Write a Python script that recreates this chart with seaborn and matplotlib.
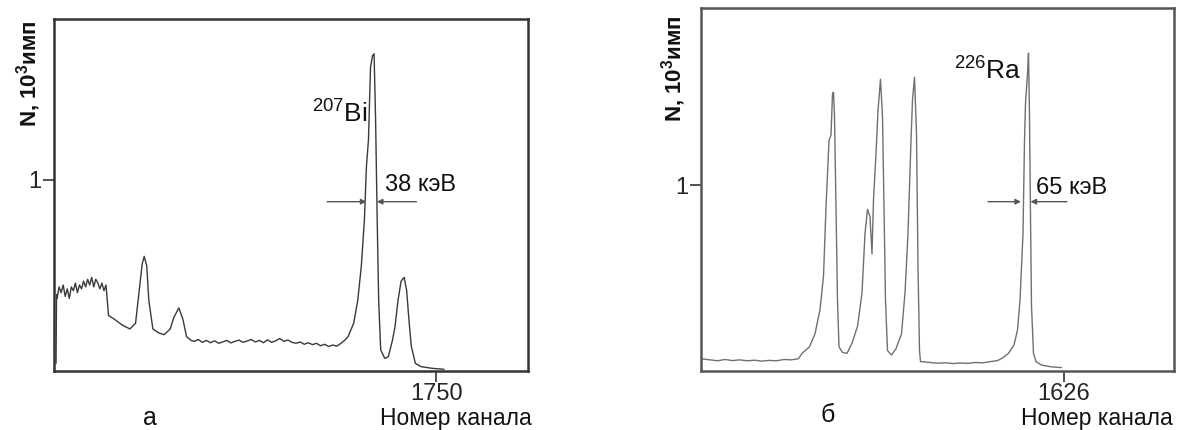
import pandas as pd
import matplotlib.pyplot as plt
import seaborn as sns

# Спектр а: 207Bi (номер канала, N в 10^3 имп)
bi_channel = [1004, 1005, 1006, 1010, 1014, 1018, 1022, 1026, 1030, 1034, 1038,
              1042, 1046, 1050, 1054, 1058, 1062, 1066, 1070, 1074, 1078, 1082,
              1086, 1090, 1094, 1098, 1102, 1107, 1119, 1134, 1149, 1160, 1168,
              1173, 1177, 1182, 1186, 1194, 1205, 1216, 1228, 1235, 1245, 1253,
              1260, 1269, 1275, 1283, 1291, 1299, 1307, 1315, 1323, 1331, 1339,
              1347, 1355, 1363, 1371, 1379, 1387, 1395, 1403, 1411, 1419, 1427,
              1435, 1443, 1451, 1459, 1467, 1475, 1483, 1491, 1499, 1507, 1515,
              1523, 1531, 1539, 1547, 1555, 1563, 1570, 1577, 1588, 1596, 1603,
              1609, 1613, 1617, 1621, 1625, 1628, 1631, 1634, 1637, 1641, 1649,
              1656, 1664, 1669, 1675, 1681, 1687, 1692, 1696, 1701, 1709, 1720,
              1742, 1765]
bi_counts = [0.04, 0.40, 0.38, 0.44, 0.41, 0.45, 0.39, 0.43, 0.38, 0.44, 0.42,
             0.46, 0.41, 0.45, 0.43, 0.47, 0.44, 0.48, 0.45, 0.49, 0.44, 0.48,
             0.46, 0.43, 0.46, 0.42, 0.45, 0.29, 0.27, 0.24, 0.22, 0.25, 0.44,
             0.56, 0.60, 0.55, 0.37, 0.22, 0.20, 0.19, 0.22, 0.28, 0.33, 0.27,
             0.18, 0.16, 0.155, 0.165, 0.150, 0.160, 0.148, 0.158, 0.145, 0.152,
             0.160, 0.147, 0.155, 0.162, 0.150, 0.157, 0.165, 0.152, 0.160, 0.148,
             0.163, 0.150, 0.158, 0.170, 0.155, 0.162, 0.150, 0.145, 0.152, 0.140,
             0.148, 0.138, 0.145, 0.132, 0.140, 0.128, 0.136, 0.130, 0.145, 0.160,
             0.18, 0.25, 0.37, 0.55, 0.79, 1.07, 1.21, 1.59, 1.65, 1.66, 1.31,
             0.81, 0.37, 0.11, 0.066, 0.075, 0.16, 0.23, 0.37, 0.47, 0.49, 0.42,
             0.28, 0.13, 0.04, 0.023, 0.014, 0.009]

# Спектр б: 226Ra
ra_channel = [902, 918, 933, 948, 963, 977, 992, 1007, 1021, 1036, 1051, 1066,
              1080, 1095, 1102, 1117, 1128, 1138, 1145, 1150, 1156, 1160, 1163,
              1165, 1167, 1170, 1173, 1176, 1183, 1192, 1202, 1213, 1222, 1228,
              1233, 1238, 1242, 1245, 1250, 1254, 1259, 1263, 1266, 1269, 1273,
              1281, 1290, 1301, 1308, 1314, 1320, 1323, 1327, 1331, 1334, 1337,
              1339, 1345, 1360, 1375, 1389, 1404, 1419, 1434, 1448, 1463, 1478,
              1493, 1503, 1515, 1526, 1533, 1538, 1544, 1547, 1549, 1553, 1555,
              1557, 1559, 1561, 1565, 1570, 1581, 1599, 1621]
ra_counts = [0.065, 0.060, 0.055, 0.062, 0.056, 0.060, 0.055, 0.058, 0.053,
             0.057, 0.055, 0.062, 0.060, 0.066, 0.095, 0.13, 0.20, 0.33, 0.51,
             0.88, 1.24, 1.27, 1.49, 1.50, 1.37, 0.88, 0.38, 0.13, 0.10, 0.095,
             0.15, 0.24, 0.42, 0.74, 0.87, 0.83, 0.63, 0.92, 1.17, 1.40, 1.57,
             1.37, 0.88, 0.38, 0.11, 0.086, 0.12, 0.20, 0.42, 0.74, 1.24, 1.46,
             1.58, 1.28, 0.56, 0.11, 0.05, 0.050, 0.045, 0.042, 0.044, 0.040,
             0.043, 0.041, 0.046, 0.044, 0.050, 0.056, 0.070, 0.095, 0.14, 0.22,
             0.38, 0.74, 1.24, 1.44, 1.60, 1.71, 1.37, 0.83, 0.35, 0.095, 0.050,
             0.032, 0.023, 0.018]

panels = [
    dict(ch=bi_channel, n=bi_counts, xlim=(1000, 1930), ylim=(0, 1.842),
         tick=1750, fwhm="38 кэВ", fwhm_lr=(1613, 1633.5), fwhm_ends=(1536, 1711),
         fwhm_y=0.886, fwhm_text=(1650, 0.975), iso=r"$^{207}$Bi",
         iso_xy=(1507, 1.35), color="#3a3a3a", spine="#333333", letter="а"),
    dict(ch=ra_channel, n=ra_counts, xlim=(900, 1846), ylim=(0, 1.953),
         tick=1626, fwhm="65 кэВ", fwhm_lr=(1540, 1559), fwhm_ends=(1474, 1632),
         fwhm_y=0.911, fwhm_text=(1571, 0.985), iso=r"$^{226}$Ra",
         iso_xy=(1406, 1.62), color="#707070", spine="#555555", letter="б"),
]

sns.set_style("white")
plt.rcParams["font.family"] = ["Liberation Sans", "DejaVu Sans"]
plt.rcParams["mathtext.fontset"] = "custom"
plt.rcParams["mathtext.rm"] = "Liberation Sans"
plt.rcParams["mathtext.bf"] = "Liberation Sans:bold"

fig = plt.figure(figsize=(11.77, 4.30), dpi=100)
W, H = 1177, 430
boxes = [(54, 19, 528, 371), (701, 8, 1174, 371)]
ylab_pos = [(29, 20), (674, 15)]
letter_pos = [(150, 418), (828, 415)]
xlab_right = [532, 1173]

for p, (l, t, r, b), (yx, yy), (lx, ly), xr in zip(panels, boxes, ylab_pos,
                                                     letter_pos, xlab_right):
    ax = fig.add_axes([l / W, 1 - b / H, (r - l) / W, (b - t) / H])
    df = pd.DataFrame({"channel": p["ch"], "N": p["n"]})
    sns.lineplot(data=df, x="channel", y="N", ax=ax, color=p["color"],
                 linewidth=1.0, estimator=None, sort=False)
    ax.set_xlim(*p["xlim"])
    ax.set_ylim(*p["ylim"])
    ax.set_xticks([p["tick"]])
    ax.set_xticklabels([str(p["tick"])])
    ax.set_yticks([1])
    ax.set_yticklabels(["1"])
    ax.set_xlabel("")
    ax.set_ylabel("")
    ax.tick_params(axis="both", direction="out", length=8, width=1.2,
                   labelsize=17, color="#333333", pad=1, bottom=True, left=True)
    for s in ax.spines.values():
        s.set_color(p["spine"])
        s.set_linewidth(1.8)

    # полуширина пика
    x1, x2 = p["fwhm_lr"]
    e1, e2 = p["fwhm_ends"]
    y0 = p["fwhm_y"]
    arrow = dict(arrowstyle="-|>", color="#555555", lw=1.0, mutation_scale=8,
                 shrinkA=0, shrinkB=0)
    ax.annotate("", xy=(x1, y0), xytext=(e1, y0), arrowprops=arrow)
    ax.annotate("", xy=(x2, y0), xytext=(e2, y0), arrowprops=arrow)
    ax.text(p["fwhm_text"][0], p["fwhm_text"][1], p["fwhm"], fontsize=17,
            ha="left", va="center", color="#111111")
    ax.text(p["iso_xy"][0], p["iso_xy"][1], p["iso"], fontsize=19,
            ha="left", va="center", color="#111111")

    fig.text(yx / W, 1 - yy / H, r"N, 10$^\mathbf{3}$имп", rotation=90,
             fontsize=16, fontweight="bold", ha="center", va="top",
             color="#111111")
    fig.text(lx / W, 1 - ly / H, p["letter"], fontsize=18, ha="center",
             va="center", color="#111111")
    fig.text(xr / W, 1 - 418 / H, "Номер канала", fontsize=16.5, ha="right",
             va="center", color="#111111")

fig.savefig("out.png", dpi=100)
